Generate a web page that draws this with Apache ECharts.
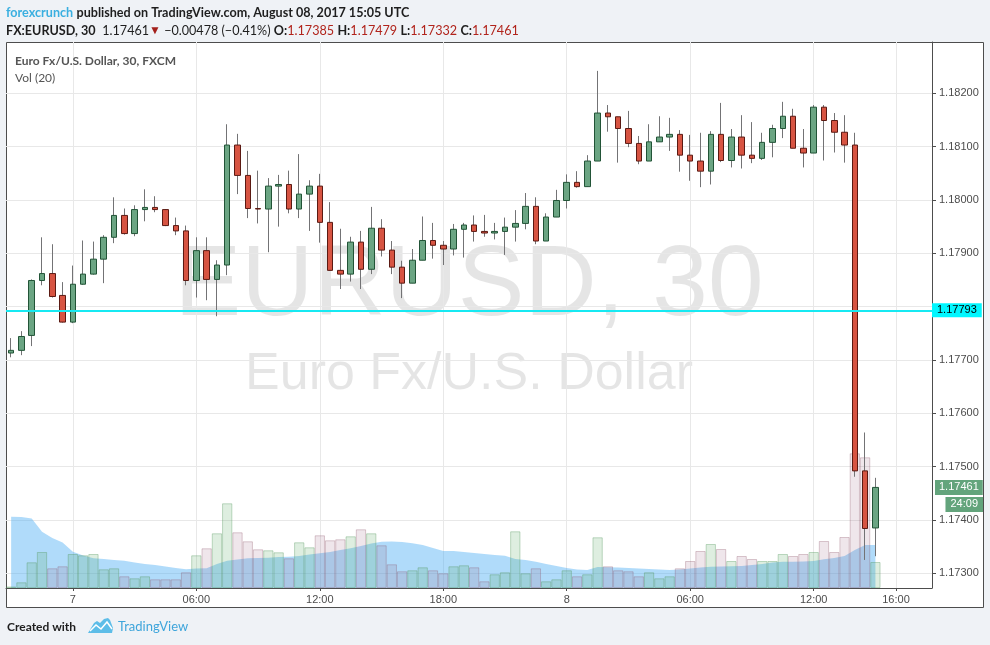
<!DOCTYPE html>
<html><head><meta charset="utf-8">
<script src="https://cdn.jsdelivr.net/npm/echarts@6/dist/echarts.min.js"></script>
<style>html,body{margin:0;padding:0;background:#eff2f6;}#c{width:990px;height:645px;}</style>
</head><body><div id="c"></div>
<script>
// 30-minute candles, 2017-08-06 21:00 .. 2017-08-08 15:00 (UTC), plus empty slots to the right
const categories = [
'08-06 21:00','08-06 21:30','08-06 22:00','08-06 22:30','08-06 23:00','08-06 23:30',
'08-07 00:00','08-07 00:30','08-07 01:00','08-07 01:30','08-07 02:00','08-07 02:30',
'08-07 03:00','08-07 03:30','08-07 04:00','08-07 04:30','08-07 05:00','08-07 05:30',
'08-07 06:00','08-07 06:30','08-07 07:00','08-07 07:30','08-07 08:00','08-07 08:30',
'08-07 09:00','08-07 09:30','08-07 10:00','08-07 10:30','08-07 11:00','08-07 11:30',
'08-07 12:00','08-07 12:30','08-07 13:00','08-07 13:30','08-07 14:00','08-07 14:30',
'08-07 15:00','08-07 15:30','08-07 16:00','08-07 16:30','08-07 17:00','08-07 17:30',
'08-07 18:00','08-07 18:30','08-07 19:00','08-07 19:30','08-07 20:00','08-07 20:30',
'08-07 21:00','08-07 21:30','08-07 22:00','08-07 22:30','08-07 23:00','08-07 23:30',
'08-08 00:00','08-08 00:30','08-08 01:00','08-08 01:30','08-08 02:00','08-08 02:30',
'08-08 03:00','08-08 03:30','08-08 04:00','08-08 04:30','08-08 05:00','08-08 05:30',
'08-08 06:00','08-08 06:30','08-08 07:00','08-08 07:30','08-08 08:00','08-08 08:30',
'08-08 09:00','08-08 09:30','08-08 10:00','08-08 10:30','08-08 11:00','08-08 11:30',
'08-08 12:00','08-08 12:30','08-08 13:00','08-08 13:30','08-08 14:00','08-08 14:30',
'08-08 15:00','08-08 15:30','08-08 16:00','08-08 16:30','08-08 17:00','08-08 17:30'];

const opens = [1.17713,1.17718,1.17746,1.17849,1.17862,1.17821,1.17771,1.17842,1.17861,1.17889,
1.17930,1.17971,1.17937,1.17982,1.17986,1.17982,1.17952,1.17942,1.17849,1.17905,
1.17851,1.17878,1.18103,1.18046,1.17984,1.17983,1.18026,1.18029,1.17983,1.18011,
1.18026,1.17958,1.17868,1.17861,1.17921,1.17870,1.17947,1.17906,1.17874,1.17844,
1.17887,1.17924,1.17915,1.17908,1.17945,1.17953,1.17941,1.17938,1.17941,1.17949,
1.17956,1.17988,1.17923,1.17968,1.17999,1.18033,1.18025,1.18073,1.18163,1.18156,
1.18134,1.18106,1.18073,1.18109,1.18118,1.18123,1.18084,1.18073,1.18054,1.18123,
1.18074,1.18118,1.18084,1.18078,1.18108,1.18134,1.18157,1.18097,1.18088,1.18174,
1.18149,1.18127,1.18103,1.17492,1.17385];

const closes = [1.17718,1.17744,1.17849,1.17862,1.17819,1.17771,1.17842,1.17861,1.17889,1.17930,
1.17971,1.17937,1.17982,1.17986,1.17982,1.17952,1.17942,1.17849,1.17905,1.17851,
1.17878,1.18103,1.18046,1.17984,1.17983,1.18026,1.18029,1.17983,1.18011,1.18026,
1.17958,1.17868,1.17861,1.17921,1.17870,1.17947,1.17906,1.17874,1.17844,1.17887,
1.17924,1.17915,1.17908,1.17945,1.17953,1.17941,1.17938,1.17941,1.17949,1.17956,
1.17988,1.17923,1.17968,1.17999,1.18033,1.18025,1.18073,1.18163,1.18156,1.18134,
1.18106,1.18073,1.18109,1.18118,1.18123,1.18084,1.18073,1.18054,1.18123,1.18074,
1.18118,1.18084,1.18078,1.18108,1.18134,1.18157,1.18097,1.18088,1.18174,1.18149,
1.18127,1.18103,1.17492,1.17384,1.17461];

const lows = [1.17705,1.17709,1.17726,1.17840,1.17817,1.17770,1.17769,1.17841,1.17860,1.17844,
1.17919,1.17935,1.17932,1.17960,1.17977,1.17951,1.17934,1.17840,1.17817,1.17812,
1.17782,1.17859,1.18011,1.17966,1.17956,1.17902,1.17950,1.17975,1.17966,1.17942,
1.17920,1.17867,1.17833,1.17847,1.17833,1.17861,1.17894,1.17861,1.17816,1.17844,
1.17887,1.17890,1.17878,1.17896,1.17892,1.17922,1.17931,1.17926,1.17897,1.17922,
1.17945,1.17917,1.17923,1.17968,1.17984,1.18023,1.18025,1.18073,1.18128,1.18070,
1.18099,1.18067,1.18073,1.18109,1.18092,1.18053,1.18036,1.18024,1.18029,1.18071,
1.18061,1.18059,1.18069,1.18075,1.18080,1.18116,1.18097,1.18061,1.18088,1.18074,
1.18089,1.18070,1.17481,1.17325,1.17332];

const highs = [1.17741,1.17754,1.17851,1.17930,1.17917,1.17846,1.17877,1.17924,1.17922,1.17934,
1.18005,1.17984,1.17990,1.18020,1.18007,1.17983,1.17967,1.17952,1.17930,1.17930,
1.17887,1.18142,1.18124,1.18092,1.18055,1.18041,1.18047,1.18055,1.18086,1.18037,
1.18049,1.17996,1.17946,1.17931,1.17942,1.17987,1.17964,1.17923,1.17886,1.17908,
1.17969,1.17957,1.17923,1.17955,1.17957,1.17971,1.17972,1.17957,1.17967,1.17981,
1.18013,1.18005,1.17975,1.18019,1.18048,1.18054,1.18084,1.18242,1.18178,1.18156,
1.18167,1.18120,1.18142,1.18157,1.18154,1.18131,1.18122,1.18126,1.18129,1.18182,
1.18133,1.18159,1.18146,1.18126,1.18141,1.18184,1.18171,1.18133,1.18178,1.18178,
1.18163,1.18159,1.18126,1.17564,1.17479];

const volumes = [150,570,2570,3600,1970,2170,3400,3270,3400,1870,
1970,1170,970,1170,870,870,870,1570,3270,3970,
5470,8470,5570,4670,3870,3770,3570,2970,4570,4070,
5270,4770,4870,5170,5870,5470,4270,2370,1670,1770,
2070,1770,1470,2170,2270,2070,670,1370,1570,5670,
1470,1970,670,870,1770,1170,1370,5070,2170,1770,
1670,1170,1570,970,1170,1970,2700,3700,4400,3900,
2700,3200,2900,2700,2700,3400,3200,3400,3600,4700,
3600,5100,13470,13070,2600];

const volumeMA20 = [7130,7100,6950,5630,5000,4550,3630,3250,2970,2900,
2800,2730,2550,2400,2300,2150,2000,1870,1950,1970,
2400,2730,2850,2970,3000,3030,3100,3130,3200,3350,
3470,3600,3800,3970,4200,4450,4630,4650,4600,4470,
4300,4000,3700,3700,3600,3500,3400,3300,3230,2900,
2800,2630,2400,2200,2000,1850,1800,2100,2070,2050,
2000,1950,1900,1850,1800,1850,1950,2050,2130,2150,
2170,2200,2300,2400,2550,2630,2630,2650,2700,2870,
3000,3200,3800,4300,4300];

const priceTicks = [1.173,1.174,1.175,1.176,1.177,1.178,1.179,1.180,1.181,1.182];
const timeTicks = [['08-07 00:00','7'],['08-07 06:00','06:00'],['08-07 12:00','12:00'],['08-07 18:00','18:00'],
                   ['08-08 00:00','8'],['08-08 06:00','06:00'],['08-08 12:00','12:00'],['08-08 16:00','16:00']];
const horizontalLine = 1.17793;
const countdown = '24:09';

const tickMap = {}; timeTicks.forEach(t => tickMap[t[0]] = t[1]);
const isTick = (idx, val) => tickMap[val] !== undefined;
const last = closes.length - 1;

const GREEN = '#6ba583', GREEN_B = '#225437', RED = '#d75442', RED_B = '#5b1a13', WICK = '#737375';
const FONT = 'Liberation Sans';

const wickData = opens.map((o, i) => [o, closes[i], lows[i], highs[i]]);
const bodyData = opens.map((o, i) => [o, closes[i], Math.min(o, closes[i]), Math.max(o, closes[i])]);
const volData = volumes.map((v, i) => ({
  value: v,
  itemStyle: closes[i] >= opens[i]
    ? {color: 'rgba(90,170,100,0.2)', borderColor: 'rgba(80,150,90,0.35)'}
    : {color: 'rgba(150,90,120,0.15)', borderColor: 'rgba(140,80,100,0.3)'}
}));

const chart = echarts.init(document.getElementById('c'), null, {renderer: 'canvas'});
const HF = 12.6;
const baseGraphic = [
  {type: 'rect', z: -100, shape: {x: 6.5, y: 42.5, width: 977, height: 565}, style: {fill: '#ffffff', stroke: '#4d4d4d', lineWidth: 1}},
  {type: 'text', z: -50, x: 469, y: 287, style: {text: 'EURUSD, 30', fontSize: 100, fontFamily: FONT, fill: 'rgba(0,0,0,0.1)', align: 'center', verticalAlign: 'middle'}},
  {type: 'text', z: -50, x: 469, y: 375, style: {text: 'Euro Fx/U.S. Dollar', fontSize: 52, fontFamily: FONT, fill: 'rgba(0,0,0,0.1)', align: 'center', verticalAlign: 'middle'}},
  {type: 'text', z: 100, x: 15, y: 61, style: {text: 'Euro Fx/U.S. Dollar, 30, FXCM', fontSize: 12, fontWeight: 'bold', fontFamily: 'Lato', fill: '#555555', verticalAlign: 'middle'}},
  {type: 'text', z: 100, x: 15, y: 78, style: {text: 'Vol (20)', fontSize: 12, fontFamily: 'Lato', fill: '#555555', verticalAlign: 'middle'}},
  {type: 'text', z: 100, x: 6, y: 13, style: {
    text: '{a|forexcrunch} {b|published on TradingView.com, August 08, 2017 15:05 UTC}',
    verticalAlign: 'middle',
    rich: {a: {fill: '#3aafe0', fontSize: HF, fontWeight: 'bold', fontFamily: 'Lato'},
           b: {fill: '#1e1e1e', fontSize: HF, fontWeight: 'bold', fontFamily: 'Lato'}}}},
  {type: 'text', z: 100, x: 6, y: 31, style: {
    text: '{k|FX:EURUSD, 30}  {n|' + closes[last].toFixed(5) + '}{r|\u25BC}{n| \u22120.00478 (\u22120.41%)} {k|O:}{v|' + opens[last].toFixed(5) +
          '} {k|H:}{v|' + highs[last].toFixed(5) + '} {k|L:}{v|' + lows[last].toFixed(5) + '} {k|C:}{v|' + closes[last].toFixed(5) + '}',
    verticalAlign: 'middle',
    rich: {k: {fill: '#1e1e1e', fontSize: HF, fontWeight: 'bold', fontFamily: 'Lato'},
           n: {fill: '#1e1e1e', fontSize: HF, fontFamily: 'Lato'},
           r: {fill: '#a3201b', fontSize: 12, fontFamily: FONT},
           v: {fill: '#b1241c', fontSize: HF, fontFamily: 'Lato'}}}},
  {type: 'text', z: 100, x: 7, y: 627, style: {text: 'Created with', fontSize: 12, fontWeight: 'bold', fontFamily: 'Lato', fill: '#1e1e1e', verticalAlign: 'middle'}},
  {type: 'polygon', z: 100, shape: {points: [[88,633],[94,623],[97,621],[100,623],[104,619],[108,618],[110,620],[113,628],[112,633]]}, style: {fill: '#5dbde8'}},
  {type: 'polyline', z: 101, shape: {points: [[90,631],[96,625],[101,629],[107,622],[112,629]]}, style: {stroke: '#ffffff', lineWidth: 1.5, fill: null}},
  {type: 'text', z: 100, x: 118, y: 627, style: {text: 'TradingView', fontSize: 13, fontFamily: 'Lato', fill: '#3ea5db', verticalAlign: 'middle'}}
];
const option = {
  animation: false,
  backgroundColor: '#eff2f6',
  textStyle: {fontFamily: FONT},
  grid: {left: 6, right: 58, top: 42, bottom: 57, containLabel: false},
  xAxis: {
    type: 'category', data: categories, boundaryGap: true,
    axisLine: {lineStyle: {color: '#4d4d4d', width: 1}},
    axisTick: {show: true, alignWithLabel: true, interval: isTick, length: 3, lineStyle: {color: '#4d4d4d'}},
    axisLabel: {interval: isTick, formatter: v => tickMap[v] || '', color: '#4c4c4c', fontSize: 11, margin: 6, fontFamily: FONT},
    splitLine: {show: false}
  },
  yAxis: [{
    type: 'value', position: 'right', min: 1.172724, max: 1.182962, scale: true,
    axisLine: {show: true, lineStyle: {color: '#4d4d4d', width: 1}},
    axisTick: {show: true, length: 4, customValues: priceTicks, lineStyle: {color: '#4d4d4d'}},
    axisLabel: {customValues: priceTicks.filter(p => Math.abs(p - horizontalLine) > 0.0002),
      formatter: v => v.toFixed(5), color: '#4c4c4c', fontSize: 11, margin: 7, fontFamily: FONT},
    splitLine: {show: false}
  }, {
    type: 'value', min: 0, max: 54600, show: false, splitLine: {show: false}
  }],
  graphic: baseGraphic,
  series: [
    {
      name: 'grid', type: 'line', data: [], silent: true, z: 1,
      markLine: {
        silent: true, z: 1, precision: 5, symbol: ['none', 'none'], animation: false,
        label: {show: false},
        lineStyle: {color: '#e8e8e8', type: 'solid', width: 1},
        data: priceTicks.map(p => ({yAxis: p})).concat(timeTicks.map(t => ({xAxis: t[0]})))
      }
    },
    {
      name: 'Vol MA', type: 'line', yAxisIndex: 1, data: volumeMA20, z: 2, silent: true,
      symbol: 'none', lineStyle: {width: 0, color: 'rgba(80,175,245,0.45)'},
      areaStyle: {color: 'rgba(80,175,245,0.45)', opacity: 1, origin: 'start'}
    },
    {
      name: 'Volume', type: 'bar', yAxisIndex: 1, data: volData, z: 3, silent: true,
      barCategoryGap: '0%', itemStyle: {borderWidth: 1}
    },
    {
      name: 'wicks', type: 'candlestick', data: wickData, z: 4, silent: true, barWidth: 0.01,
      itemStyle: {color: WICK, color0: WICK, borderColor: WICK, borderColor0: WICK, borderWidth: 1}
    },
    {
      name: 'EURUSD', type: 'candlestick', data: bodyData, z: 5, silent: true, barWidth: 6,
      itemStyle: {color: GREEN, color0: RED, borderColor: GREEN_B, borderColor0: RED_B, borderWidth: 1},
      markLine: {
        silent: true, z: 7, precision: 5, symbol: ['none', 'none'], animation: false,
        data: [
          {yAxis: horizontalLine, lineStyle: {color: '#17e9f2', width: 2, type: 'solid'},
           label: {show: true, position: 'end', distance: 0, formatter: horizontalLine.toFixed(5),
                   backgroundColor: '#00f7ff', color: '#000', padding: [2, 5, 1, 5], fontSize: 11, fontFamily: FONT}},
          {yAxis: closes[last], lineStyle: {color: 'rgba(0,0,0,0)', width: 0.01, type: 'solid'},
           label: {show: true, position: 'end', distance: 3, formatter: closes[last].toFixed(5),
                   backgroundColor: '#63a47c', color: '#fff', padding: [2, 4, 2, 4], fontSize: 11, fontFamily: FONT}}
        ]
      }
    }
  ]
};
chart.setOption(option);
const yLast = chart.convertToPixel({yAxisIndex: 0}, closes[last]);
chart.setOption({graphic: baseGraphic.concat([
  {type: 'text', z: 120, x: 983, y: yLast + 17, style: {text: countdown, fontSize: 11, fontFamily: FONT, fill: '#ffffff',
    backgroundColor: '#63a47c', padding: [2, 5, 2, 5], align: 'right', verticalAlign: 'middle'}}
])});
</script></body></html>
